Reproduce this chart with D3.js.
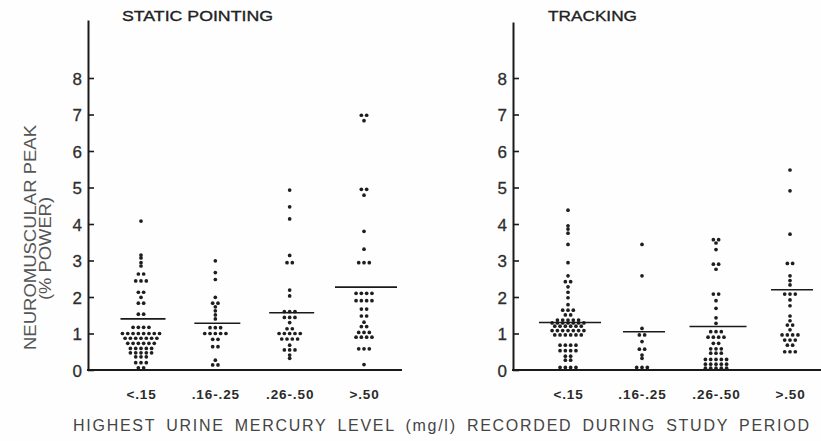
<!DOCTYPE html>
<html>
<head>
<meta charset="utf-8">
<script src="https://cdn.jsdelivr.net/npm/d3@7"></script>
<style>
  body { margin: 0; background: #fefefe; }
  svg { display: block; }
  text { font-family: "Liberation Sans", Arial, sans-serif; }
</style>
</head>
<body>
<div id="viz"></div>
<script>
// categories of highest urine mercury level (mg/l)
var categories = ['<.15', '.16-.25', '.26-.50', '>.50'];
var yTickValues = [0, 1, 2, 3, 4, 5, 6, 7, 8];

// neuromuscular peak (% power), one value per subject
var staticLow = [4.08, 3.15, 3.07, 2.94, 2.85, 2.63, 2.63, 2.44, 2.44, 2.44, 2.13, 2.13, 1.99,
  1.83, 1.83, 1.53, 1.53, 1.17, 1.17, 1.17, 1.17, 1, 1, 1, 1, 1, 1, 1, 1,
  0.87, 0.87, 0.87, 0.87, 0.87, 0.87, 0.87, 0.73, 0.73, 0.73, 0.73, 0.73, 0.73,
  0.59, 0.59, 0.59, 0.59, 0.59, 0.47, 0.47, 0.47, 0.47, 0.47, 0.36, 0.36, 0.36,
  0.2, 0.2, 0.2, 0.06, 0.06];
var staticMid1 = [2.99, 2.67, 2.48, 1.99, 1.83, 1.83, 1.73, 1.62, 1.51, 1.4, 1.16, 1.16, 1.16,
  1, 1, 1, 1, 1, 0.84, 0.84, 0.64, 0.64, 0.27, 0.14, 0.14];
var staticMid2 = [4.93, 4.47, 4.14, 3.14, 2.94, 2.94, 2.19, 2.03, 1.6, 1.6, 1.6, 1.44, 1.44, 1.44,
  1.3, 1.13, 1.13, 1, 1, 1, 1, 1, 0.85, 0.85, 0.85, 0.85, 0.68, 0.55, 0.55, 0.55, 0.41, 0.32];
var staticHigh = [6.98, 6.98, 6.83, 4.95, 4.95, 4.79, 3.8, 3.31, 2.94, 2.94, 2.94,
  2.1, 2.1, 2.1, 2.1, 1.9, 1.9, 1.9, 1.9, 1.67, 1.67, 1.48, 1.48, 1.31, 1.19, 1.19,
  1.03, 1.03, 1.03, 0.9, 0.9, 0.9, 0.9, 0.58, 0.58, 0.58, 0.15];

var trackLow = [4.38, 3.95, 3.86, 3.75, 3.44, 2.94, 2.58, 2.42, 2.42, 2.28, 2.13, 1.98, 1.79,
  1.64, 1.64, 1.64, 1.51, 1.51, 1.37, 1.37, 1.37, 1.37, 1.37,
  1.29, 1.29, 1.29, 1.29, 1.29, 1.29, 1.29, 1.2, 1.2, 1.2, 1.2, 1.2, 1.2,
  1.08, 1.08, 1.08, 1.08, 1.08, 1.08, 1.08, 0.96, 0.96, 0.96, 0.96, 0.96, 0.96,
  0.68, 0.68, 0.68, 0.68, 0.53, 0.53, 0.53, 0.53, 0.38, 0.38, 0.27, 0.27,
  0.07, 0.07, 0.07, 0.07];
var trackMid1 = [3.44, 2.58, 1.14, 0.96, 0.96, 0.78, 0.57, 0.57, 0.41, 0.32, 0.07, 0.07, 0.07];
var trackMid2 = [3.57, 3.57, 3.48, 3.3, 2.9, 2.9, 2.76, 2.08, 2.08, 1.9, 1.69, 1.43, 1.28,
  1.05, 1.05, 1.05, 0.9, 0.9, 0.9, 0.9, 0.73, 0.73, 0.58, 0.58, 0.58, 0.46, 0.46, 0.46,
  0.29, 0.29, 0.29, 0.29, 0.29, 0.16, 0.16, 0.16, 0.16, 0.16, 0.05, 0.05, 0.05, 0.05, 0.05];
var trackHigh = [5.48, 4.91, 3.72, 2.92, 2.92, 2.58, 2.45, 2.33, 2.08, 2.08, 2.08, 1.92, 1.76,
  1.48, 1.35, 1.23, 1.23, 1.1, 0.96, 0.96, 0.96, 0.96, 0.82, 0.82, 0.82, 0.68, 0.68,
  0.5, 0.5, 0.5];

// group means (horizontal bars)
var staticMeans = [1.4, 1.28, 1.57, 2.27];
var trackingMeans = [1.3, 1.05, 1.19, 2.2];

var width = 821, height = 441,
    baseY = 370;

var svg = d3.select('#viz').append('svg')
  .attr('width', width)
  .attr('height', height);

svg.append('rect').attr('width', width).attr('height', height).attr('fill', '#fefefe');

var panels = [
  { title: 'STATIC POINTING', titleX: 122, titleLen: 151, values: [staticLow, staticMid1, staticMid2, staticHigh],
    means: staticMeans, axisX: 88, endX: 402, top: 20, firstX: 141, lastX: 364, meanW: [45, 46, 45, 62] },
  { title: 'TRACKING', titleX: 548, titleLen: 89, values: [trackLow, trackMid1, trackMid2, trackHigh],
    means: trackingMeans, axisX: 513, endX: 821, top: 22, firstX: 568, lastX: 790, meanW: [62, 42, 57, 42] }
];

panels.forEach(function(p) {
  var g = svg.append('g');

  // tick 8 sits at about 36.5px per unit, axis goes higher
  var yScale = d3.scaleLinear()
    .domain([0, (baseY - p.top) / 36.5])
    .range([baseY, p.top]);

  var xScale = d3.scalePoint()
    .domain(categories)
    .range([p.firstX, p.lastX]);

  var yAxis = d3.axisLeft(yScale)
    .tickValues(yTickValues)
    .tickSizeInner(-6)
    .tickSizeOuter(0)
    .tickPadding(6)
    .tickFormat(d3.format('d'));

  var yg = g.append('g')
    .attr('transform', 'translate(' + p.axisX + ',0)')
    .call(yAxis);
  yg.select('.domain').attr('stroke', '#1a1a1a').attr('stroke-width', 2);
  yg.selectAll('.tick line').attr('stroke', '#1a1a1a').attr('stroke-width', 1.6);
  yg.selectAll('.tick text')
    .attr('fill', '#2e2e2e')
    .attr('stroke', '#2e2e2e')
    .attr('stroke-width', 0.3)
    .attr('dy', '0.36em')
    .style('font-size', '17px');

  // baseline
  g.append('line')
    .attr('x1', p.axisX - 1).attr('x2', p.endX)
    .attr('y1', baseY).attr('y2', baseY)
    .attr('stroke', '#1a1a1a').attr('stroke-width', 2);

  var xg = g.append('g')
    .attr('transform', 'translate(0,' + baseY + ')')
    .call(d3.axisBottom(xScale).tickSize(0).tickPadding(19));
  xg.select('.domain').remove();
  xg.selectAll('.tick text')
    .attr('fill', '#2a2a2a')
    .style('font-size', '13.5px')
    .style('letter-spacing', '0.9px')
    .style('font-weight', 'bold');

  g.append('text')
    .attr('x', p.titleX)
    .attr('y', 21)
    .attr('textLength', p.titleLen)
    .attr('lengthAdjust', 'spacingAndGlyphs')
    .attr('fill', '#222')
    .attr('stroke', '#222')
    .attr('stroke-width', 0.35)
    .style('font-size', '15px')
    .text(p.title);

  // dots: same value -> side by side in one row
  var spacing = 5.3;
  p.values.forEach(function(vals, ci) {
    var cx = xScale(categories[ci]);
    var rows = d3.groups(vals, function(v) { return v; });
    var dots = [];
    rows.forEach(function(r) {
      var n = r[1].length;
      r[1].forEach(function(v, i) {
        dots.push({ v: v, dx: (i - (n - 1) / 2) * spacing });
      });
    });
    g.append('g').selectAll('circle')
      .data(dots)
      .enter().append('circle')
      .attr('cx', function(d) { return cx + d.dx; })
      .attr('cy', function(d) { return yScale(d.v); })
      .attr('r', 1.85)
      .attr('fill', '#1e1e1e');

    g.append('line')
      .attr('x1', cx - p.meanW[ci] / 2 + 2)
      .attr('x2', cx + p.meanW[ci] / 2 + 2)
      .attr('y1', yScale(p.means[ci]))
      .attr('y2', yScale(p.means[ci]))
      .attr('stroke', '#1a1a1a')
      .attr('stroke-width', 1.6);
  });
});

// shared axis titles
svg.append('text')
  .attr('transform', 'translate(36,350) rotate(-90)')
  .attr('textLength', 225)
  .attr('lengthAdjust', 'spacingAndGlyphs')
  .attr('fill', '#555')
  .style('font-size', '16px')
  .text('NEUROMUSCULAR PEAK');

svg.append('text')
  .attr('transform', 'translate(51,300) rotate(-90)')
  .attr('textLength', 103)
  .attr('lengthAdjust', 'spacingAndGlyphs')
  .attr('fill', '#555')
  .style('font-size', '16px')
  .text('(% POWER)');

svg.append('text')
  .attr('x', 73)
  .attr('y', 431)
  .attr('textLength', 736)
  .attr('lengthAdjust', 'spacing')
  .attr('fill', '#444')
  .style('font-size', '16px')
  .style('word-spacing', '4px')
  .text('HIGHEST URINE MERCURY LEVEL (mg/l) RECORDED DURING STUDY PERIOD');
</script>
</body>
</html>
